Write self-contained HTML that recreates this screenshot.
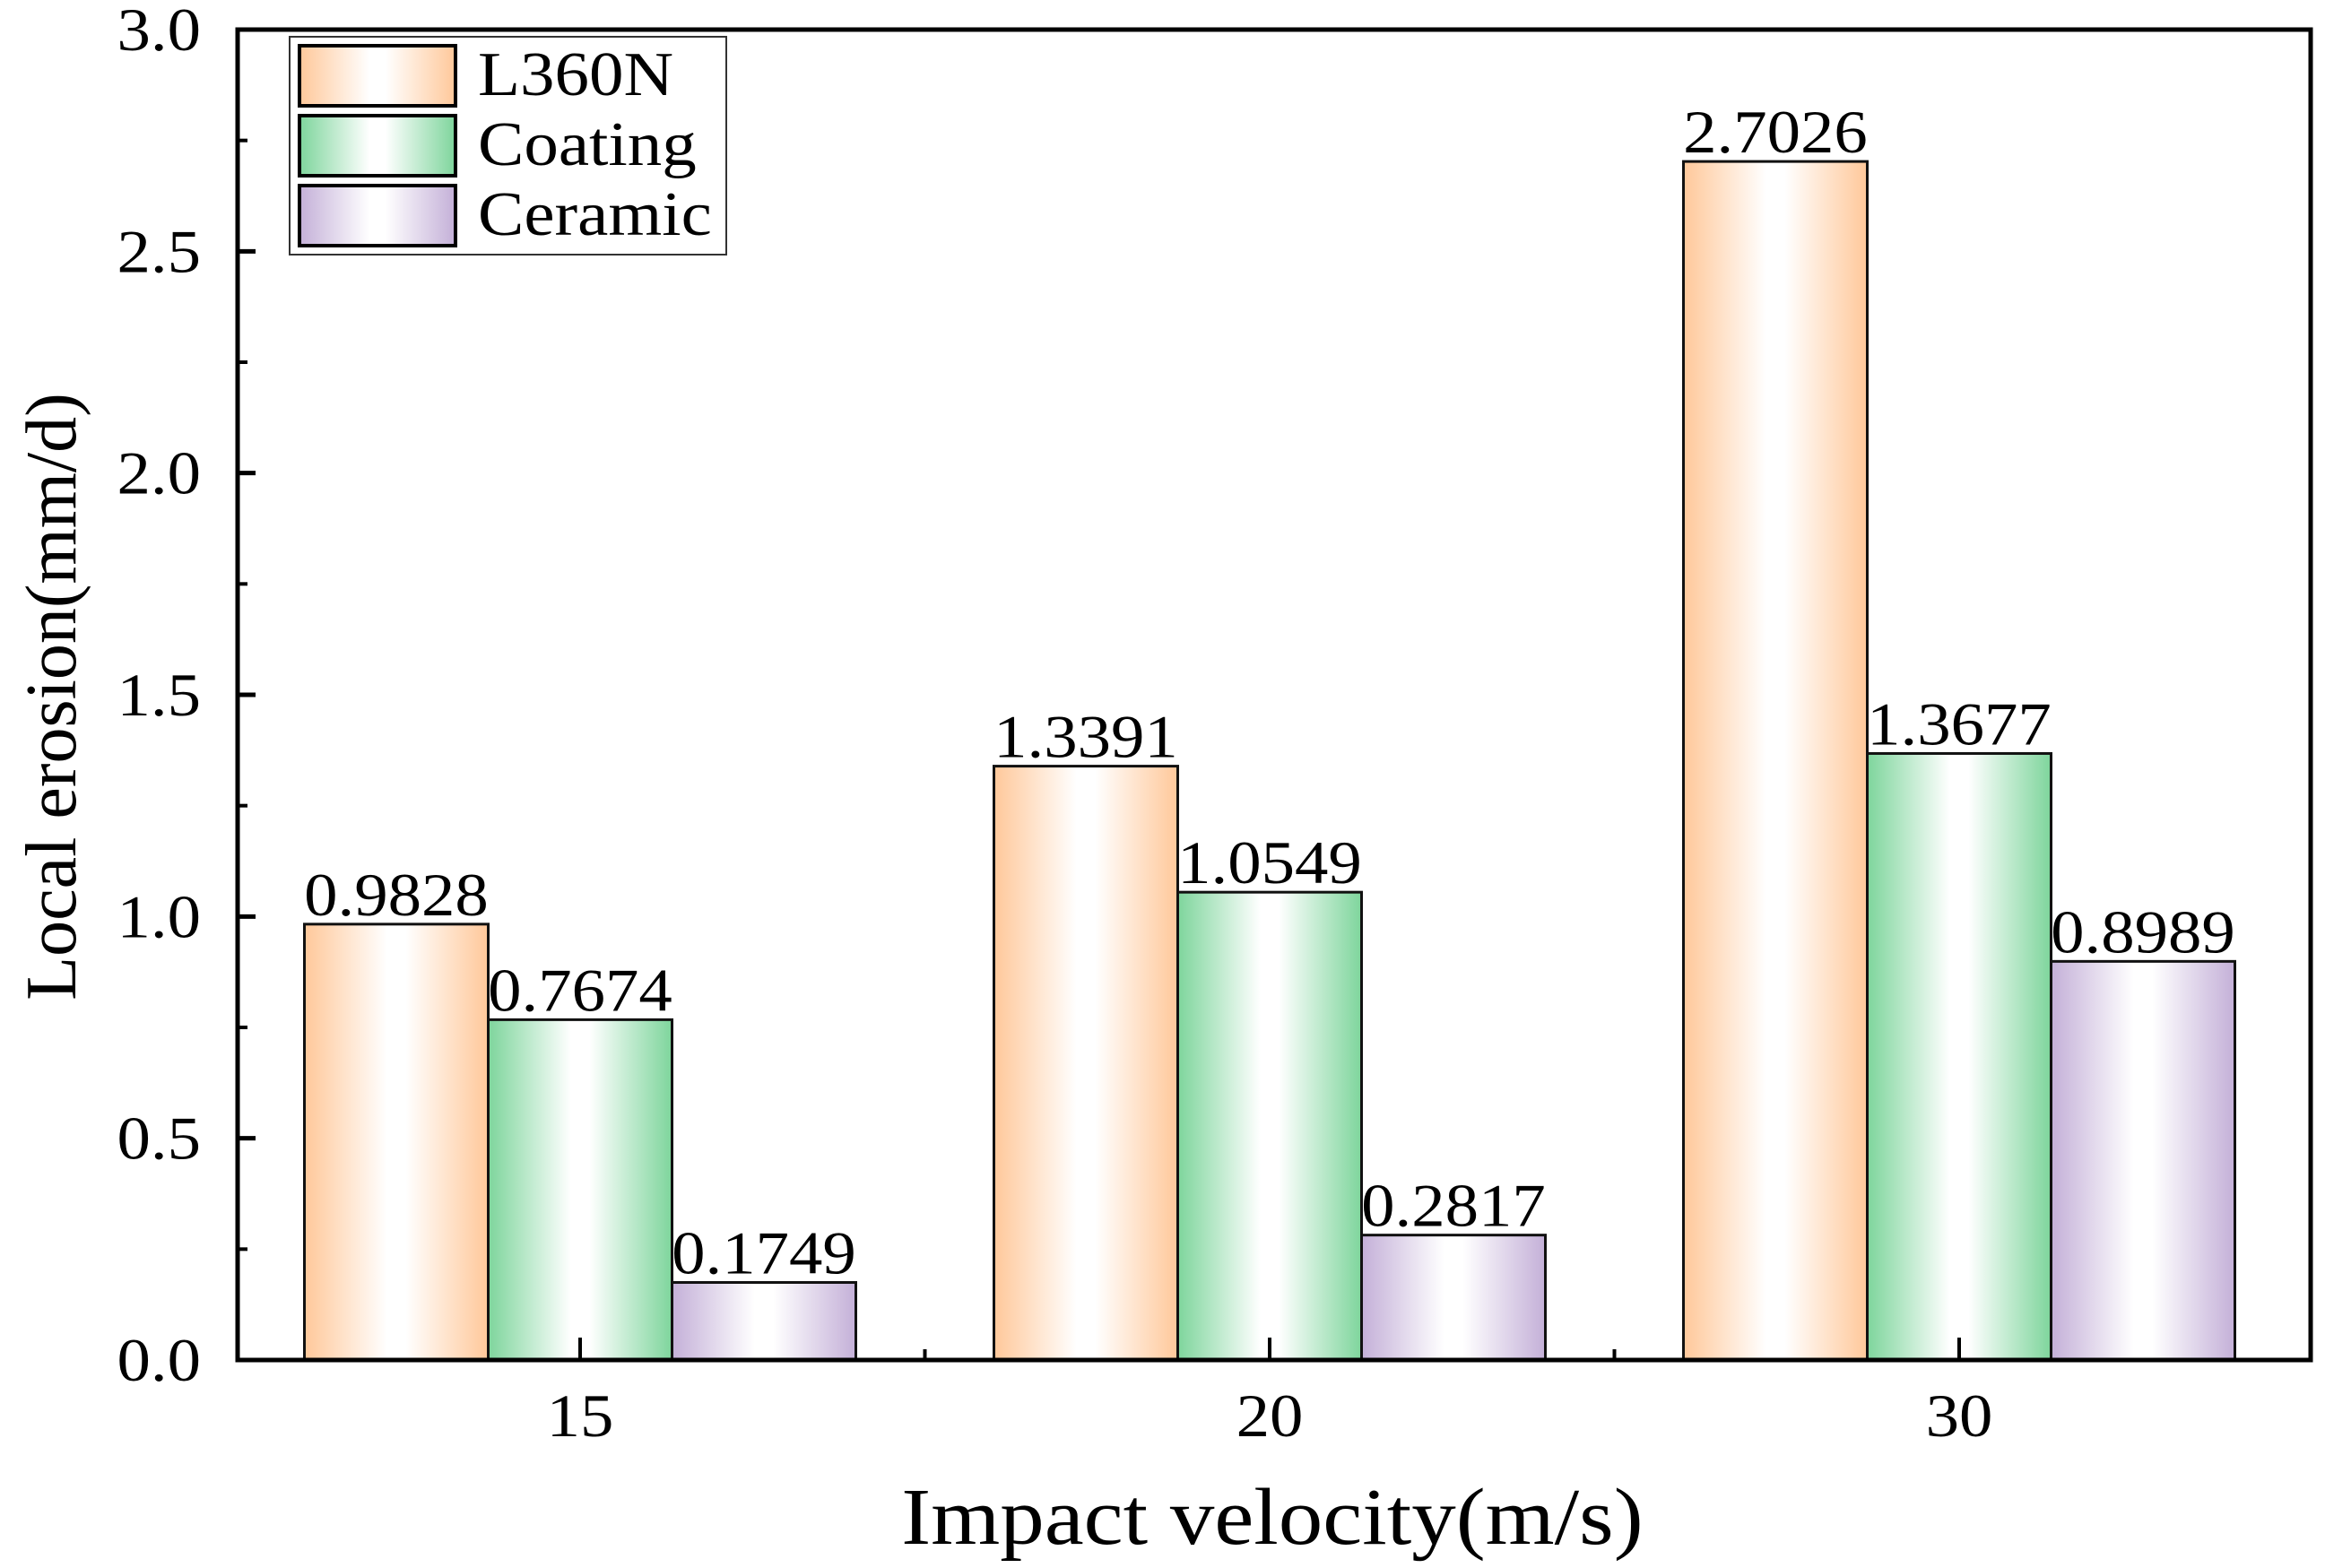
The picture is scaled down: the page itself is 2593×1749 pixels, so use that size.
<!DOCTYPE html>
<html><head><meta charset="utf-8"><style>
html,body{margin:0;padding:0;background:#fff;}
svg{display:block;font-family:"Liberation Serif",serif;}
</style></head><body>
<svg id="chart" width="2593" height="1749" viewBox="0 0 2593 1749">
<defs>
<linearGradient id="gO" x1="0" x2="1" y1="0" y2="0"><stop offset="0" stop-color="#ffc89a"/><stop offset="0.45" stop-color="#fff"/><stop offset="0.55" stop-color="#fff"/><stop offset="1" stop-color="#ffc89a"/></linearGradient>
<linearGradient id="gG" x1="0" x2="1" y1="0" y2="0"><stop offset="0" stop-color="#7ed59c"/><stop offset="0.45" stop-color="#fff"/><stop offset="0.55" stop-color="#fff"/><stop offset="1" stop-color="#7ed59c"/></linearGradient>
<linearGradient id="gP" x1="0" x2="1" y1="0" y2="0"><stop offset="0" stop-color="#c4b0d8"/><stop offset="0.45" stop-color="#fff"/><stop offset="0.55" stop-color="#fff"/><stop offset="1" stop-color="#c4b0d8"/></linearGradient>
</defs>
<g id="bars"></g>
<g id="axes"></g>
<g id="legend">
<rect x="323" y="41" width="487" height="243" fill="#fff" stroke="#333" stroke-width="2"/>
<rect x="334" y="51" width="174" height="67" fill="url(#gO)" stroke="#000" stroke-width="4"/>
<text class="st" x="533" y="106" font-size="70">L360N</text>
<rect x="334" y="129" width="174" height="67" fill="url(#gG)" stroke="#000" stroke-width="4"/>
<text class="st" x="533" y="184" font-size="70">Coating</text>
<rect x="334" y="207" width="174" height="67" fill="url(#gP)" stroke="#000" stroke-width="4"/>
<text class="st" x="533" y="262" font-size="70">Ceramic</text>
</g>
<text class="st" x="1419" y="1722" font-size="90" text-anchor="middle">Impact velocity(m/s)</text>
<text transform="translate(84,777) rotate(-90)" font-size="80" text-anchor="middle">Local erosion(mm/d)</text>
</svg>
<script>
const categories = ["15", "20", "30"];
const seriesNames = ["L360N", "Coating", "Ceramic"];
const l360n = [0.9828, 1.3391, 2.7026];
const coating = [0.7674, 1.0549, 1.3677];
const ceramic = [0.1749, 0.2817, 0.8989];
const yTicks = ["0.0", "0.5", "1.0", "1.5", "2.0", "2.5", "3.0"];

const NS = "http://www.w3.org/2000/svg";
const L = 265, R = 2577, T = 33, B = 1517, yMax = 3.0;
const yS = v => B - (v / yMax) * (B - T);
const groupW = 769, firstC = 647, barW = 205;
const xC = i => firstC + i * groupW;
const fills = ["url(#gO)", "url(#gG)", "url(#gP)"];
const series = [l360n, coating, ceramic];

function mk(tag, attrs, parent) {
  const e = document.createElementNS(NS, tag);
  for (const k in attrs) e.setAttribute(k, attrs[k]);
  parent.appendChild(e);
  return e;
}
const bars = document.getElementById("bars");
const axes = document.getElementById("axes");

series.forEach((vals, s) => {
  vals.forEach((v, i) => {
    const x = xC(i) + (s - 1.5) * barW;
    const r = mk("rect", {x: x, y: yS(v), width: barW, height: B - yS(v), fill: fills[s], stroke: "#111", "stroke-width": 3}, bars);
    
    
    const t = mk("text", {class: "st", x: x + barW / 2, y: yS(v) - 10, "font-size": 68, "text-anchor": "middle"}, bars);
    t.textContent = v.toFixed(4);
    
    
  });
});

const frame = mk("rect", {x: L, y: T, width: R - L, height: B - T, fill: "none", stroke: "#000", "stroke-width": 5}, axes);



yTicks.forEach((lab, k) => {
  const v = parseFloat(lab);
  const y = yS(v);
  const tk = mk("line", {x1: L, x2: L + 20, y1: y, y2: y, stroke: "#000", "stroke-width": 5}, axes);
  
  
  const t = mk("text", {class: "st", x: 224, y: y + 23, "font-size": 68, "text-anchor": "end"}, axes);
  t.textContent = lab;
  
  
  if (k < yTicks.length - 1) {
    const ym = yS(v + 0.25);
    const mt = mk("line", {x1: L, x2: L + 11, y1: ym, y2: ym, stroke: "#000", "stroke-width": 4}, axes);
    
    
  }
});

categories.forEach((c, i) => {
  const x = xC(i);
  const tk = mk("line", {x1: x, x2: x, y1: B, y2: B - 25, stroke: "#000", "stroke-width": 4}, axes);
  
  
  const t = mk("text", {class: "st", x: x, y: 1602, "font-size": 68, "text-anchor": "middle"}, axes);
  t.textContent = c;
  
  
  if (i < categories.length - 1) {
    const xm = x + groupW / 2;
    const mt = mk("line", {x1: xm, x2: xm, y1: B, y2: B - 12, stroke: "#000", "stroke-width": 4}, axes);
    
    
  }
});

document.querySelectorAll("text.st").forEach(t => {
  const x = parseFloat(t.getAttribute("x"));
  t.setAttribute("transform", "translate(" + x + ",0) scale(1.1,1) translate(" + (-x) + ",0)");
});
</script>
</body></html>
